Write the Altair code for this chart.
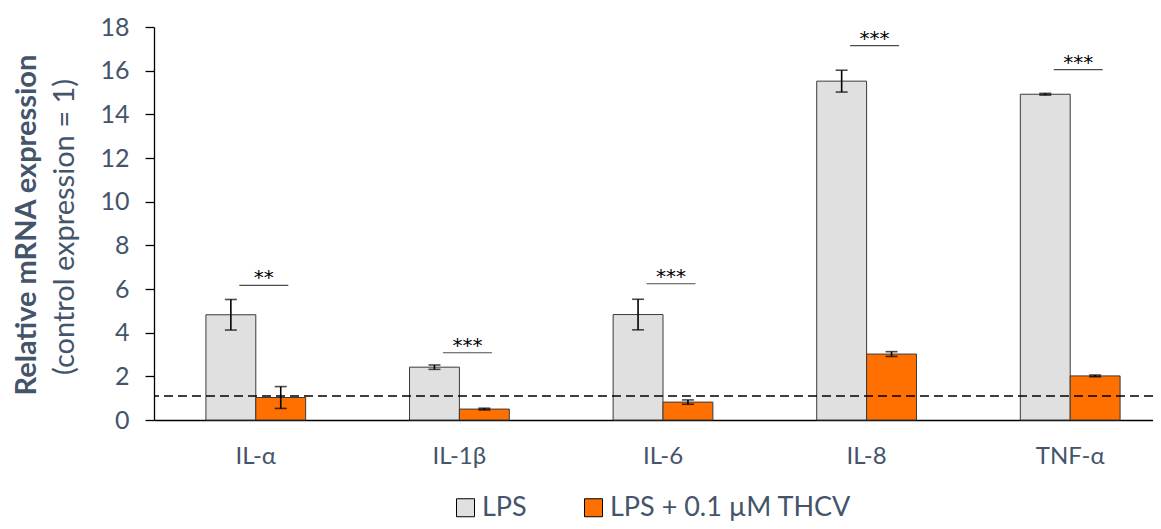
import altair as alt
import pandas as pd

categories = ["IL-α", "IL-1β", "IL-6", "IL-8", "TNF-α"]
series_names = ["LPS", "LPS + 0.1 µM THCV"]
series_colors = ["#E0E0E0", "#FF7000"]
lps_mean = [4.82, 2.42, 4.83, 15.52, 14.92]
lps_err = [0.70, 0.10, 0.70, 0.50, 0.04]
thcv_mean = [1.03, 0.50, 0.82, 3.02, 2.02]
thcv_err = [0.50, 0.04, 0.10, 0.11, 0.04]
sig_level = [6.17, 3.08, 6.24, 17.15, 16.05]
sig_label = ["**", "***", "***", "***", "***"]
control_level = [1.1]
y_ticks = list(range(0, 19, 2))
title_bold = ["Relative mRNA expression"]
title_normal = ["(control expression = 1)"]

rows = []
for i, c in enumerate(categories):
    for s, m, e in ((series_names[0], lps_mean[i], lps_err[i]),
                    (series_names[1], thcv_mean[i], thcv_err[i])):
        rows.append({"category": c, "series": s, "mean": m, "lo": m - e, "hi": m + e})
bars_df = pd.DataFrame(rows)
sig_df = pd.DataFrame({"category": categories, "sig": sig_level, "label": sig_label})
ctrl_df = pd.DataFrame({"level": control_level})

FONT = "Lato"
SLATE = "#44546A"

xscale = alt.Scale(range=[0, 1018], paddingInner=0.51, paddingOuter=0.255)
x_main = alt.X("category:N", sort=categories, scale=xscale, title=None,
               axis=alt.Axis(ticks=False, domainColor="black", domainWidth=1.3,
                             labelFont=FONT, labelFontSize=24, labelColor=SLATE,
                             labelPadding=24, labelAngle=0))
x_plain = alt.X("category:N", sort=categories, title=None)
xoff = alt.XOffset("series:N", sort=series_names,
                   scale=alt.Scale(paddingInner=0, paddingOuter=0))
yscale = alt.Scale(domain=[0, 18], nice=False)

base = alt.Chart(bars_df)

bars = base.mark_bar(stroke="#3a3a3a", strokeWidth=1).encode(
    x=x_main,
    xOffset=xoff,
    y=alt.Y("mean:Q", scale=yscale, title=None,
            axis=alt.Axis(values=y_ticks, grid=False, domainColor="black", domainWidth=1.3,
                          tickColor="black", tickWidth=1.3, tickSize=9,
                          labelFont=FONT, labelFontSize=25, labelColor=SLATE,
                          labelPadding=16)),
    color=alt.Color("series:N", sort=series_names,
                    scale=alt.Scale(domain=series_names, range=series_colors),
                    legend=alt.Legend(title=None, orient="none", legendX=298, legendY=467,
                                      padding=0,
                                      direction="horizontal", symbolType="square",
                                      symbolSize=324, symbolStrokeColor="black",
                                      symbolStrokeWidth=1, symbolOpacity=1,
                                      labelFont=FONT, labelFontSize=27, labelColor=SLATE,
                                      labelOffset=3, labelLimit=0, columnPadding=53)),
)

err_rule = base.mark_rule(color="black", strokeWidth=1.6).encode(
    x=x_plain, xOffset=xoff, y=alt.Y("lo:Q", title=None), y2="hi:Q")
cap_lo = base.mark_tick(color="black", size=12, thickness=1.6).encode(
    x=x_plain, xOffset=xoff, y=alt.Y("lo:Q", title=None))
cap_hi = base.mark_tick(color="black", size=12, thickness=1.6).encode(
    x=x_plain, xOffset=xoff, y=alt.Y("hi:Q", title=None))

sig_line = alt.Chart(sig_df).mark_tick(color="black", size=49, thickness=1.2, xOffset=8).encode(
    x=x_plain, y=alt.Y("sig:Q", title=None))
sig_text = alt.Chart(sig_df).mark_text(font="DejaVu Sans", fontSize=20, color="#000000",
                                       baseline="alphabetic", dy=-1, xOffset=8).encode(
    x=x_plain, y=alt.Y("sig:Q", title=None), text="label:N")

ctrl = alt.Chart(ctrl_df).mark_rule(color="black", strokeDash=[9, 5], strokeWidth=1.5).encode(
    y=alt.Y("level:Q", title=None))

t1 = alt.Chart(pd.DataFrame({"t": title_bold})).mark_text(
    angle=270, font=FONT, fontSize=29, fontWeight="bold", color=SLATE,
    align="center", baseline="middle").encode(text="t:N", x=alt.value(-127), y=alt.value(198))
t2 = alt.Chart(pd.DataFrame({"t": title_normal})).mark_text(
    angle=270, font=FONT, fontSize=29, color=SLATE,
    align="center", baseline="middle").encode(text="t:N", x=alt.value(-89), y=alt.value(200))

chart = alt.layer(bars, err_rule, cap_lo, cap_hi, sig_line, sig_text, ctrl, t1, t2).properties(
    width=999, height=393,
    autosize=alt.AutoSizeParams(type="none"),
    padding={"left": 146, "top": 19, "right": 0, "bottom": 101},
).configure_view(stroke=None)

chart.save("out.html", embed_options={"renderer": "svg", "actions": False})
